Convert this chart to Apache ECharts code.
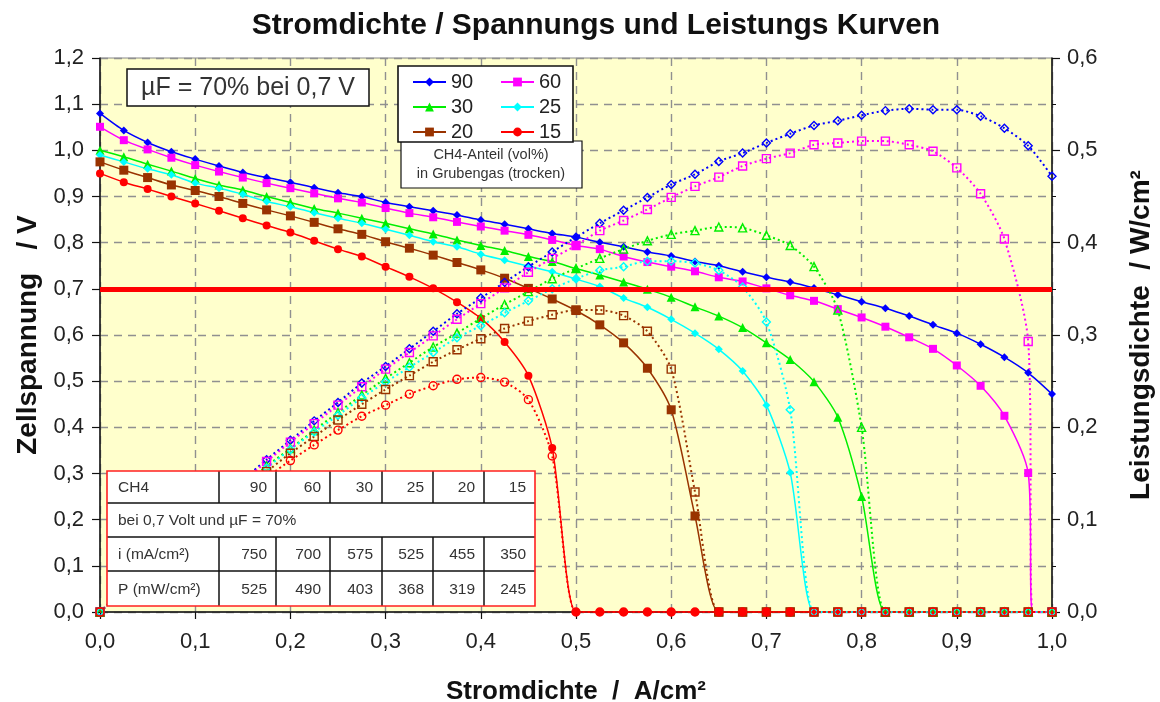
<!DOCTYPE html>
<html>
<head>
<meta charset="utf-8">
<script src="https://cdn.jsdelivr.net/npm/echarts@6/dist/echarts.min.js"></script>
<style>html,body{margin:0;padding:0;background:#fff;overflow:hidden}#chart{width:1160px;height:702px}</style>
</head>
<body>
<div id="chart"></div>
<script>
// ---- data ----
const currentDensity = [0,0.025,0.05,0.075,0.1,0.125,0.15,0.175,0.2,0.225,0.25,0.275,0.3,0.325,0.35,0.375,0.4,0.425,0.45,0.475,0.5,0.525,0.55,0.575,0.6,0.625,0.65,0.675,0.7,0.725,0.75,0.775,0.8,0.825,0.85,0.875,0.9,0.925,0.95,0.975,1.0];

const voltage90 = [1.08,1.043,1.017,0.997,0.981,0.966,0.952,0.941,0.931,0.919,0.908,0.90,0.887,0.878,0.869,0.86,0.849,0.84,0.83,0.82,0.812,0.801,0.791,0.78,0.771,0.759,0.75,0.737,0.725,0.715,0.702,0.687,0.672,0.658,0.641,0.622,0.604,0.58,0.552,0.518,0.472];
const voltage60 = [1.051,1.022,1.002,0.984,0.968,0.954,0.941,0.929,0.918,0.907,0.896,0.887,0.875,0.864,0.855,0.845,0.835,0.826,0.817,0.806,0.794,0.786,0.77,0.758,0.748,0.738,0.725,0.716,0.701,0.686,0.674,0.656,0.638,0.618,0.595,0.57,0.534,0.49,0.425,0.301,0];
const voltage30 = [1.0,0.986,0.97,0.955,0.939,0.925,0.914,0.90,0.887,0.874,0.864,0.853,0.842,0.83,0.819,0.806,0.794,0.783,0.77,0.759,0.744,0.73,0.715,0.699,0.682,0.661,0.641,0.616,0.583,0.547,0.499,0.422,0.25,0,0,0,0,0,0,0,0];
const voltage25 = [0.99,0.975,0.96,0.947,0.929,0.918,0.905,0.889,0.878,0.865,0.853,0.842,0.829,0.816,0.802,0.791,0.775,0.762,0.749,0.737,0.721,0.705,0.68,0.66,0.634,0.604,0.569,0.522,0.448,0.302,0,0,0,0,0,0,0,0,0,0,0];
const voltage20 = [0.975,0.957,0.941,0.925,0.913,0.90,0.885,0.871,0.858,0.844,0.83,0.818,0.802,0.788,0.773,0.757,0.741,0.723,0.701,0.678,0.653,0.622,0.583,0.528,0.438,0.208,0,0,0,0,0,0,0,0,0,0,0,0,0,0,0];
const voltage15 = [0.95,0.931,0.916,0.90,0.885,0.869,0.853,0.837,0.822,0.804,0.786,0.77,0.748,0.726,0.701,0.671,0.636,0.585,0.512,0.355,0,0,0,0,0,0,0,0,0,0,0,0,0,0,0,0,0,0,0,0,0];

const power90 = [0,0.026,0.051,0.075,0.098,0.121,0.143,0.165,0.186,0.207,0.227,0.248,0.266,0.285,0.304,0.323,0.340,0.357,0.374,0.390,0.406,0.421,0.435,0.449,0.463,0.474,0.488,0.497,0.508,0.518,0.527,0.532,0.538,0.543,0.545,0.544,0.544,0.537,0.524,0.505,0.472];
const power60 = [0,0.026,0.050,0.074,0.097,0.119,0.141,0.163,0.184,0.204,0.224,0.244,0.263,0.281,0.299,0.317,0.334,0.351,0.368,0.383,0.397,0.413,0.424,0.436,0.449,0.461,0.471,0.483,0.491,0.497,0.506,0.508,0.510,0.510,0.506,0.499,0.481,0.453,0.404,0.293,0];
const power30 = [0,0.025,0.049,0.072,0.094,0.116,0.137,0.158,0.177,0.197,0.216,0.235,0.253,0.270,0.287,0.302,0.318,0.333,0.347,0.361,0.372,0.383,0.393,0.402,0.409,0.413,0.417,0.416,0.408,0.397,0.374,0.327,0.200,0,0,0,0,0,0,0,0];
const power25 = [0,0.024,0.048,0.071,0.093,0.115,0.136,0.156,0.176,0.195,0.213,0.232,0.249,0.265,0.281,0.297,0.310,0.324,0.337,0.350,0.361,0.370,0.374,0.380,0.380,0.378,0.370,0.352,0.314,0.219,0,0,0,0,0,0,0,0,0,0,0];
const power20 = [0,0.024,0.047,0.069,0.091,0.113,0.133,0.152,0.172,0.190,0.208,0.225,0.241,0.256,0.271,0.284,0.296,0.307,0.315,0.322,0.327,0.327,0.321,0.304,0.263,0.130,0,0,0,0,0,0,0,0,0,0,0,0,0,0,0];
const power15 = [0,0.023,0.046,0.068,0.089,0.109,0.128,0.146,0.164,0.181,0.197,0.212,0.224,0.236,0.245,0.252,0.254,0.249,0.230,0.169,0,0,0,0,0,0,0,0,0,0,0,0,0,0,0,0,0,0,0,0,0];

// the 60 % curves reach zero just before 1.0 (unmarked point)
const dropPoint60 = [0.98, 0];

const seriesNames = ['90','60','30','25','20','15'];
const referenceVoltage = 0.7;

const tableCH4 = ['90','60','30','25','20','15'];
const tableCurrent = ['750','700','575','525','455','350'];
const tablePower = ['525','490','403','368','319','245'];

// ---- presentation ----
const FONT = '"Liberation Sans", Arial, sans-serif';
const colors = {'90':'#0000FF','60':'#FF00FF','30':'#00EE00','25':'#00FFFF','20':'#993300','15':'#FF0000'};
const symbols = {'90':'diamond','60':'rect','30':'triangle','25':'diamond','20':'rect','15':'circle'};
const vSizes = {'90':8,'60':8,'30':9,'25':8,'20':9,'15':8};

function pairs(xs, ys, extra) {
  const out = xs.map((x, k) => [x, ys[k]]);
  if (extra) {
    const idx = out.findIndex(p => p[0] > extra[0]);
    out.splice(idx, 0, {value: extra, symbol: 'none'});
  }
  return out;
}

const vData = {'90':voltage90,'60':voltage60,'30':voltage30,'25':voltage25,'20':voltage20,'15':voltage15};
const pData = {'90':power90,'60':power60,'30':power30,'25':power25,'20':power20,'15':power15};

const series = [];
seriesNames.forEach(n => {
  series.push({
    name: n, type: 'line', xAxisIndex: 0, yAxisIndex: 0,
    data: pairs(currentDensity, vData[n], n === '60' ? dropPoint60 : null),
    smooth: 0.25,
    symbol: symbols[n], symbolSize: vSizes[n],
    itemStyle: {color: colors[n]},
    lineStyle: {color: colors[n], width: 1.5},
    emphasis: {disabled: true},
    z: 3
  });
});
seriesNames.forEach(n => {
  series.push({
    name: 'P' + n, type: 'line', xAxisIndex: 0, yAxisIndex: 1,
    data: pairs(currentDensity, pData[n], n === '60' ? dropPoint60 : null),
    smooth: 0.25,
    symbol: symbols[n], symbolSize: 8,
    itemStyle: {color: 'rgba(0,0,0,0)', borderColor: colors[n], borderWidth: 1.4},
    lineStyle: {color: colors[n], width: 2, type: [2, 3]},
    emphasis: {disabled: true},
    z: 3
  });
});
series.push({
  name: 'ref', type: 'line', xAxisIndex: 0, yAxisIndex: 0, data: [],
  markLine: {
    silent: true, symbol: 'none', animation: false,
    label: {show: false},
    lineStyle: {color: '#FF0000', width: 5, type: 'solid'},
    data: [{yAxis: referenceVoltage}]
  },
  z: 4
});

const fmt = v => v.toFixed(1).replace('.', ',');

// table geometry (layout only)
const colX = [107, 219, 276, 330, 382, 433, 484, 535];
const rowY = [471, 503, 537, 571, 606];
const graphics = [];
const TZ = 100;
graphics.push({type:'rect', shape:{x:colX[0], y:rowY[0], width:colX[7]-colX[0], height:rowY[4]-rowY[0]}, style:{fill:'#fff', stroke:'none'}, z:TZ});
[1,2,3].forEach(r => {
  graphics.push({type:'line', shape:{x1:colX[0], y1:rowY[r], x2:colX[7], y2:rowY[r]}, style:{stroke:'#111', lineWidth:1.5}, z:TZ+1});
});
for (let c = 1; c < 7; c++) {
  [[0,1],[2,4]].forEach(([a,b]) => {
    graphics.push({type:'line', shape:{x1:colX[c], y1:rowY[a], x2:colX[c], y2:rowY[b]}, style:{stroke:'#111', lineWidth:1.5}, z:TZ+1});
  });
}
graphics.push({type:'rect', shape:{x:colX[0], y:rowY[0], width:colX[7]-colX[0], height:rowY[4]-rowY[0]}, style:{fill:'none', stroke:'#FF2020', lineWidth:1.6}, z:TZ+2});
function cellText(txt, x, y, align) {
  graphics.push({type:'text', x:x, y:y, style:{text:txt, fill:'#333', font:'15.5px ' + FONT, textAlign:align, textVerticalAlign:'middle'}, z:TZ+3});
}
const rowMid = r => (rowY[r] + rowY[r+1]) / 2 + 1;
cellText('CH4', colX[0] + 11, rowMid(0), 'left');
cellText('bei 0,7 Volt und µF = 70%', colX[0] + 11, rowMid(1), 'left');
cellText('i (mA/cm²)', colX[0] + 11, rowMid(2), 'left');
cellText('P (mW/cm²)', colX[0] + 11, rowMid(3), 'left');
for (let c = 0; c < 6; c++) {
  cellText(tableCH4[c], colX[c+2] - 9, rowMid(0), 'right');
  cellText(tableCurrent[c], colX[c+2] - 9, rowMid(2), 'right');
  cellText(tablePower[c], colX[c+2] - 9, rowMid(3), 'right');
}
// annotation box
graphics.push({type:'rect', shape:{x:127, y:69, width:242, height:37}, style:{fill:'#fff', stroke:'#111', lineWidth:1.5}, z:TZ});
graphics.push({type:'text', x:248, y:88, style:{text:'µF = 70% bei 0,7 V', fill:'#333', font:'25px ' + FONT, textAlign:'center', textVerticalAlign:'middle'}, z:TZ+1});
// legend boxes
graphics.push({type:'rect', shape:{x:401, y:141, width:181, height:47}, style:{fill:'#fff', stroke:'#111', lineWidth:1.2}, z:TZ});
graphics.push({type:'text', x:491, y:155, style:{text:'CH4-Anteil (vol%)', fill:'#333', font:'14.5px ' + FONT, textAlign:'center', textVerticalAlign:'middle'}, z:TZ+1});
graphics.push({type:'text', x:491, y:174, style:{text:'in Grubengas (trocken)', fill:'#333', font:'14.5px ' + FONT, textAlign:'center', textVerticalAlign:'middle'}, z:TZ+1});
graphics.push({type:'rect', shape:{x:398, y:66, width:175, height:76}, style:{fill:'#fff', stroke:'#111', lineWidth:1.6}, z:TZ+2});

const legendCommon = {
  orient: 'vertical', top: 72, padding: 0, itemWidth: 33, itemHeight: 11, itemGap: 5,
  selectedMode: false, z: 150,
  textStyle: {fontSize: 20, lineHeight: 19, color: '#222', fontFamily: FONT}
};

const nameStyle = {fontSize: 26, fontWeight: 'bold', color: '#111', fontFamily: FONT};
const yNameStyle = {fontSize: 28, fontWeight: 'bold', color: '#111', fontFamily: FONT};
const labelStyle = {formatter: fmt, fontSize: 22, color: '#222', fontFamily: FONT};

const option = {
  backgroundColor: '#fff',
  animation: false,
  title: {
    text: 'Stromdichte / Spannungs und Leistungs Kurven',
    left: 591, top: 6, textAlign: 'center',
    textStyle: {fontSize: 30, fontWeight: 'bold', color: '#111', fontFamily: FONT}
  },
  legend: [
    Object.assign({}, legendCommon, {left: 412, data: ['90','30','20']}),
    Object.assign({}, legendCommon, {left: 500, data: ['60','25','15']})
  ],
  grid: {left: 100, right: 108, top: 58, bottom: 90, outerBoundsMode: 'none', containLabel: false,
         show: true, backgroundColor: '#FFFFCC', borderColor: '#888', borderWidth: 1},
  xAxis: {
    type: 'value', min: 0, max: 1, interval: 0.1,
    name: 'Stromdichte  /  A/cm²', nameLocation: 'middle', nameGap: 67,
    nameTextStyle: nameStyle,
    axisLine: {lineStyle: {color: '#111', width: 1.5}},
    axisTick: {show: true, length: 7, lineStyle: {color: '#111', width: 1.2}},
    axisLabel: Object.assign({margin: 19}, labelStyle),
    splitLine: {show: true, lineStyle: {color: '#909090', type: [8, 6], width: 1.4}}
  },
  yAxis: [
    {
      type: 'value', min: 0, max: 1.2, interval: 0.1, position: 'left',
      name: 'Zellspannung   / V', nameLocation: 'middle', nameGap: 56, nameRotate: 90,
      nameTextStyle: yNameStyle,
      axisLine: {show: true, lineStyle: {color: '#111', width: 1.5}},
      axisTick: {show: true, length: 8, lineStyle: {color: '#111', width: 1.2}},
      axisLabel: Object.assign({margin: 16}, labelStyle),
      splitLine: {show: true, lineStyle: {color: '#909090', type: [8, 6], width: 1.4}}
    },
    {
      type: 'value', min: 0, max: 0.6, interval: 0.1, position: 'right',
      name: 'Leistungsdichte  / W/cm²', nameLocation: 'middle', nameGap: 75, nameRotate: 90,
      nameTextStyle: yNameStyle,
      axisLine: {show: true, lineStyle: {color: '#111', width: 1.5}},
      axisTick: {show: true, length: 8, lineStyle: {color: '#111', width: 1.2}},
      minorTick: {show: true, splitNumber: 2, length: 4, lineStyle: {color: '#111'}},
      axisLabel: Object.assign({margin: 15}, labelStyle),
      splitLine: {show: false}
    }
  ],
  series: series,
  graphic: {elements: graphics}
};

const chart = echarts.init(document.getElementById('chart'), null, {renderer: 'canvas'});
chart.setOption(option);
</script>
</body>
</html>
